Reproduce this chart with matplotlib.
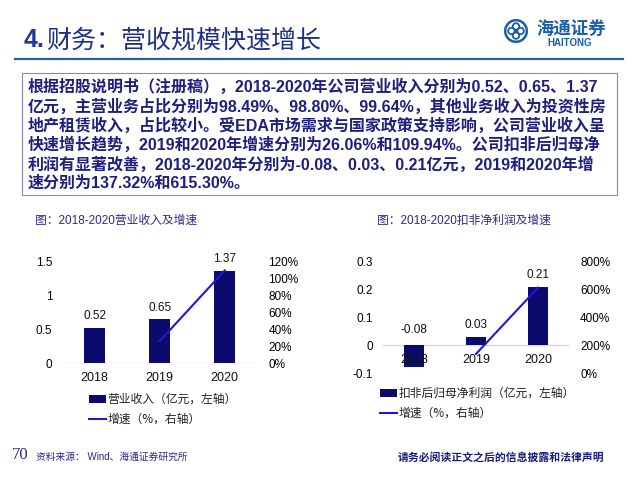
#!/usr/bin/env python3

import matplotlib
matplotlib.use("Agg")
import matplotlib.pyplot as plt
import numpy as np
from matplotlib.patches import Rectangle, Circle
from matplotlib.lines import Line2D
from matplotlib.ticker import FuncFormatter

# data
years = ["2018", "2019", "2020"]
revenue = [0.52, 0.65, 1.37]            # 亿元
revenue_growth = [26.06, 109.94]        # %, 2019-2020
profit = [-0.08, 0.03, 0.21]            # 扣非归母净利润, 亿元
profit_growth = [137.32, 615.30]        # %, 2019-2020

headline_num = "4."
headline = "财务：营收规模快速增长"
summary_lines = [
    "根据招股说明书（注册稿），2018-2020年公司营业收入分别为0.52、0.65、1.37",
    "亿元，主营业务占比分别为98.49%、98.80%、99.64%，其他业务收入为投资性房",
    "地产租赁收入，占比较小。受EDA市场需求与国家政策支持影响，公司营业收入呈",
    "快速增长趋势，2019和2020年增速分别为26.06%和109.94%。公司扣非后归母净",
    "利润有显著改善，2018-2020年分别为-0.08、0.03、0.21亿元，2019和2020年增",
    "速分别为137.32%和615.30%。",
]
title_left = "图：2018-2020营业收入及增速"
title_right = "图：2018-2020扣非净利润及增速"
legend_left = ["营业收入（亿元，左轴）", "增速（%，右轴）"]
legend_right = ["扣非后归母净利润（亿元，左轴）", "增速（%，右轴）"]

navy = "#0b0b6e"
line_blue = "#1a1ad6"
text_navy = "#1f1f80"
fam = ["Liberation Sans", "Noto Sans CJK SC"]
cjk = ["Noto Sans CJK SC", "DejaVu Sans"]

plt.rcParams["font.family"] = fam

W, H = 640, 480
fig = plt.figure(figsize=(6.4, 4.8), dpi=100)
fig.patch.set_facecolor("white")


def fx(px):
    return px / W


def fy(py):
    return 1 - py / H


# header
fig.text(fx(24), fy(40), headline_num, fontsize=18, fontweight="bold",
         color="#1f3a9a", va="center", ha="left")
fig.text(fx(46), fy(40), headline, fontsize=18, color="#1f2f88",
         va="center", ha="left", family=cjk)
fig.add_artist(Line2D([fx(15), fx(623)], [fy(58.5), fy(58.5)],
                      color="#2c5ca8", lw=1.6))

# logo
logo_blue = "#1b5ea8"
axl = fig.add_axes([fx(504), fy(43), 24 / W, 24 / H])
axl.set_xlim(-1, 1)
axl.set_ylim(-1, 1)
axl.set_aspect("equal")
axl.axis("off")
axl.add_patch(Circle((0, 0), 0.9, fill=False, ec=logo_blue, lw=1.8))
for dx, dy in [(0.38, 0), (-0.38, 0), (0, 0.38), (0, -0.38)]:
    axl.add_patch(Circle((dx, dy), 0.27, fill=False, ec=logo_blue, lw=1.3))
axl.add_patch(Rectangle((-0.12, -0.12), 0.24, 0.24, color=logo_blue))
fig.text(fx(571), fy(29), "海通证券", fontsize=12.5, color=logo_blue,
         fontweight="bold", ha="center", va="center", family=cjk, style="italic")
fig.text(fx(570), fy(43.5), "HAITONG", fontsize=7, color=logo_blue,
         fontweight="bold", ha="center", va="center")

# summary box
fig.add_artist(Rectangle((fx(22), fy(195)), 595 / W, 122 / H, fill=False,
                         ec="#8a8ab0", lw=0.8))
for i, s in enumerate(summary_lines):
    fig.text(fx(28), fy(87 + 19.3 * i), s, fontsize=11.5, fontweight="bold",
             color=text_navy, va="center", ha="left")

# chart titles
fig.text(fx(35), fy(221), title_left, fontsize=8.5, color="#2b2b8c", va="center")
fig.text(fx(377), fy(221), title_right, fontsize=8.5, color="#2b2b8c", va="center")


def style_axes(ax):
    for sp in ax.spines.values():
        sp.set_visible(False)
    ax.set_xticks([])
    ax.tick_params(axis="y", length=0, labelsize=8.5)
    ax.patch.set_alpha(0)


def draw_chart(rect, values, growth, ylim, yticks, rlim, rticks, width):
    x = np.arange(len(years))
    ax = fig.add_axes(rect)
    style_axes(ax)
    ax.set_xlim(-0.5, len(years) - 0.5)
    ax.set_ylim(*ylim)
    ax.set_yticks(yticks)
    ax.yaxis.set_major_formatter(FuncFormatter(lambda v, p: f"{v:g}"))
    ax.tick_params(axis="y", pad=7)
    ax.axhline(0, color="#d9d9d9", lw=1, zorder=1)
    bars = ax.bar(x, values, width=width, color=navy, zorder=2)
    for i, v in enumerate(values):
        ax.annotate(f"{v:.2f}", (x[i], max(v, 0)), xytext=(0, 4 if v >= 0 else 7),
                    textcoords="offset points", ha="center", va="bottom",
                    fontsize=8.5, color="#111111", annotation_clip=False)
    for i, yr in enumerate(years):
        ax.annotate(yr, (x[i], 0), xytext=(0, -6.5), textcoords="offset points",
                    ha="center", va="top", fontsize=9, color="#111111",
                    annotation_clip=False, zorder=5)

    axr = ax.twinx()
    style_axes(axr)
    axr.set_ylim(*rlim)
    axr.set_yticks(rticks)
    axr.yaxis.set_major_formatter(FuncFormatter(lambda v, p: f"{v * 100:.0f}%"))
    axr.tick_params(axis="y", pad=8)
    line, = axr.plot(x[1:], np.array(growth) / 100, color=line_blue, lw=1.5)
    return bars, line


bars1, line1 = draw_chart([fx(62.2), fy(363), 195 / W, 101 / H], revenue,
                          revenue_growth, (0, 1.5), [0, 0.5, 1, 1.5],
                          (0, 1.2), [0, 0.2, 0.4, 0.6, 0.8, 1.0, 1.2], 0.33)
bars2, line2 = draw_chart([fx(383), fy(373), 186 / W, 111 / H], profit,
                          profit_growth, (-0.1, 0.3), [-0.1, 0, 0.1, 0.2, 0.3],
                          (0, 8), [0, 2, 4, 6, 8], 0.32)

legend_args = dict(loc="upper left", frameon=False, borderpad=0, borderaxespad=0,
                   handlelength=1.4, handleheight=0.7, handletextpad=0.15,
                   labelspacing=0.6, prop={"family": cjk, "size": 8.5},
                   labelcolor="#222222")
fig.legend([bars1, line1], legend_left, bbox_to_anchor=(fx(89), fy(393)),
           **legend_args)
fig.legend([bars2, line2], legend_right, bbox_to_anchor=(fx(380), fy(387)),
           **legend_args)

# footer
fig.text(fx(12), fy(455), "70", fontsize=12, color="#2a2a8a", va="center",
         family=["Liberation Serif", "DejaVu Serif"])
fig.text(fx(36), fy(457), "资料来源： Wind、海通证券研究所", fontsize=7,
         color="#2a2a8a", va="center")
fig.text(fx(398), fy(457), "请务必阅读正文之后的信息披露和法律声明", fontsize=7.8,
         color="#1a1a80", fontweight="bold", va="center", family=cjk)

fig.savefig("out.png", dpi=100, facecolor="white")
